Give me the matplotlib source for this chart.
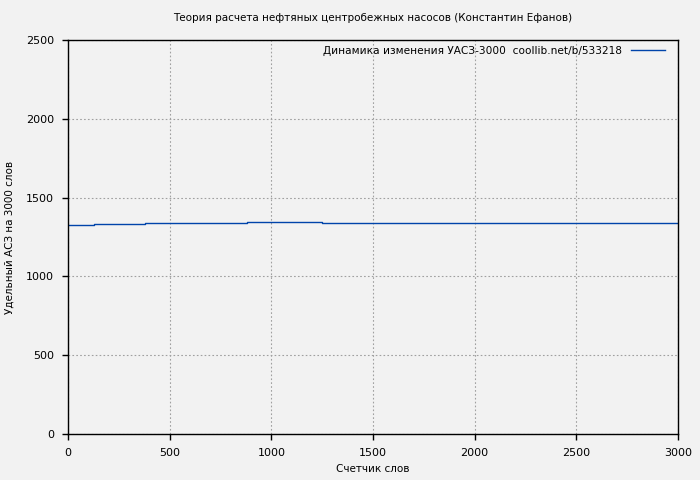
import numpy as np
import matplotlib.pyplot as plt

# Границы ступеней (счетчик слов) и значения УАСЗ
x_steps = [0, 130, 380, 630, 880, 1250, 1750, 2500, 3000]
y_vals = [1325, 1330, 1336, 1342, 1348, 1342, 1336, 1342, 1342]

x_ticks = [0, 500, 1000, 1500, 2000, 2500, 3000]
y_ticks = [0, 500, 1000, 1500, 2000, 2500]

fig = plt.figure(figsize=(7, 4.8), dpi=100, facecolor='#f2f2f2')
ax = fig.add_axes([68/700, 46/480, 610/700, 394/480])
ax.set_facecolor('#f2f2f2')

ax.step(x_steps, y_vals, where='post', color='#0044aa', linewidth=1.0,
        label='Динамика изменения УАСЗ-3000  coollib.net/b/533218')

ax.set_xlim(0, 3000)
ax.set_ylim(0, 2500)
ax.set_xticks(x_ticks)
ax.set_yticks(y_ticks)
ax.tick_params(labelsize=8, direction='out', length=4, width=1)
ax.tick_params(axis='x', pad=6)
ax.tick_params(axis='y', pad=6)
ax.grid(True, color='#a0a0a0', linestyle=(0, (1.5, 2)), linewidth=0.8)
for s in ax.spines.values():
    s.set_linewidth(1.0)

# Подписи размещаем в координатах фигуры
fig.text(0.5 * (68 + 678) / 700, 1 - 18 / 480,
         'Теория расчета нефтяных центробежных насосов (Константин Ефанов)',
         fontsize=7.5, ha='center', va='center')
fig.text(0.5 * (68 + 678) / 700, 1 - 469 / 480, 'Счетчик слов',
         fontsize=7.5, ha='center', va='center')
fig.text(10 / 700, 1 - 237 / 480, 'Удельный АСЗ на 3000 слов',
         fontsize=7.5, ha='center', va='center', rotation=90)

ax.legend(loc='upper right', frameon=False, fontsize=7.6, markerfirst=False,
          handlelength=3.2, handletextpad=0.9, borderpad=0, borderaxespad=0,
          bbox_to_anchor=(665 / 700, 1 - 46 / 480), bbox_transform=fig.transFigure)

fig.savefig('out.png', dpi=100, facecolor=fig.get_facecolor())
